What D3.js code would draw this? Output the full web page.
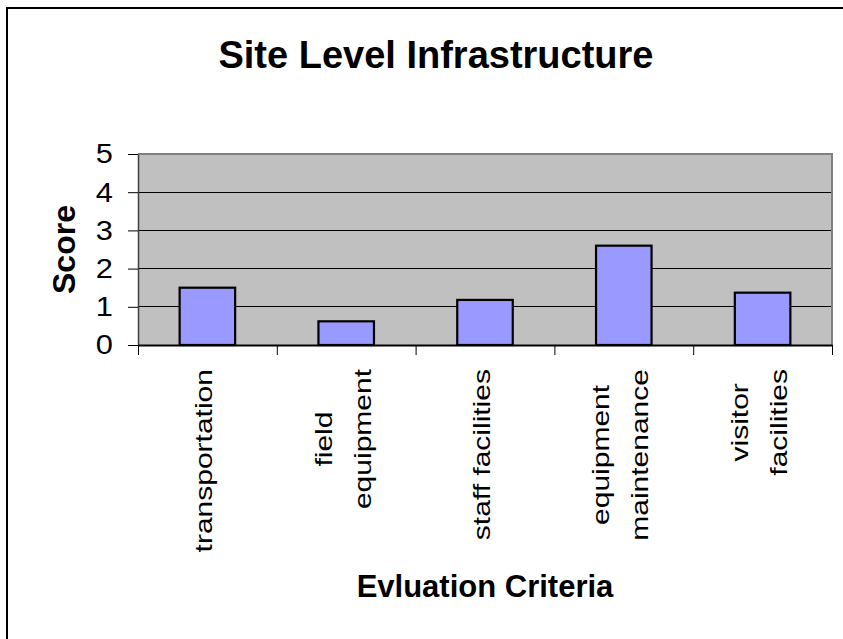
<!DOCTYPE html>
<html><head><meta charset="utf-8">
<script src="https://cdn.jsdelivr.net/npm/d3@7"></script>
<style>body{margin:0;background:#fff}svg{display:block}text{font-family:"Liberation Sans",Arial,Helvetica,sans-serif;fill:#000}</style>
</head><body>
<script>
const categories = ["transportation","field equipment","staff facilities","equipment maintenance","visitor facilities"];
const categoryLines = [["transportation"],["field","equipment"],["staff facilities"],["equipment","maintenance"],["visitor","facilities"]];
const scores = [1.5, 0.62, 1.18, 2.6, 1.37];
const yTicks = [0, 1, 2, 3, 4, 5];
const chartTitle = "Site Level Infrastructure";
const xTitle = "Evluation Criteria";
const yTitle = "Score";

const W = 843, H = 639;
const L = 138, R = 832, T = 154, B = 345;
const svg = d3.select("body").append("svg").attr("width", W).attr("height", H);

// outer frame
svg.append("rect").attr("x", 7).attr("y", 8).attr("width", 900).attr("height", 700)
  .attr("fill", "none").attr("stroke", "#000").attr("stroke-width", 2);

const x = d3.scaleBand().domain(categories).range([L, R]).paddingInner(0.6).paddingOuter(0.3);
const xb = d3.scaleLinear().domain([0, categories.length]).range([L, R]);
const y = d3.scaleLinear().domain([0, 5]).range([B, T]);

// plot background
svg.append("rect").attr("x", L).attr("y", T).attr("width", R - L).attr("height", B - T).attr("fill", "#c0c0c0");

// gridlines
svg.append("g").selectAll("line").data(yTicks.filter(d => d > 0 && d < 5)).join("line")
  .attr("x1", L).attr("x2", R).attr("y1", d => y(d)).attr("y2", d => y(d))
  .attr("stroke", "#000").attr("stroke-width", 1).attr("shape-rendering", "crispEdges");

// plot border (top/right)
svg.append("path").attr("d", `M${L},${T}H${R}V${B}`).attr("fill", "none")
  .attr("stroke", "#808080").attr("stroke-width", 2);

// bars
svg.append("g").selectAll("rect").data(scores).join("rect")
  .attr("x", (d, i) => x(categories[i])).attr("width", x.bandwidth())
  .attr("y", d => y(d)).attr("height", d => y(0) - y(d))
  .attr("fill", "#9999ff").attr("stroke", "#000").attr("stroke-width", 2.2);

// y axis
const yAxis = svg.append("g").attr("transform", `translate(${L},0)`)
  .call(d3.axisLeft(y).tickValues(yTicks).tickFormat(d3.format("d")).tickSize(10).tickSizeOuter(0).tickPadding(15));
yAxis.select(".domain").attr("stroke", "#404040").attr("stroke-width", 1.5);
yAxis.selectAll(".tick line").attr("stroke", "#000");
yAxis.selectAll(".tick text").attr("font-size", 28).attr("font-family", "Liberation Sans, Arial, sans-serif").attr("fill", "#000")
  .attr("x", 0).attr("transform", "translate(-25,0) scale(1.1,1)");

// x axis
const xAxis = svg.append("g").attr("transform", `translate(0,${B})`)
  .call(d3.axisBottom(xb).tickValues(d3.range(categories.length + 1)).tickFormat("").tickSize(10).tickSizeOuter(0));
xAxis.select(".domain").attr("stroke", "#000").attr("stroke-width", 2);
xAxis.selectAll(".tick line").attr("stroke", "#000");

// category labels (rotated)
const fs = 24, stretch = 1.25, lineGap = 39, topY = 369, baseOff = 5;
categories.forEach((c, i) => {
  const lines = categoryLines[i];
  const cx = x(c) + x.bandwidth() / 2;
  const g = svg.append("g");
  const texts = lines.map((ln, j) => {
    const bx = cx + (j - (lines.length - 1) / 2) * lineGap + baseOff;
    return g.append("text").text(ln).attr("font-size", fs).attr("text-anchor", "middle")
      .attr("data-bx", bx);
  });
  const maxW = d3.max(texts, t => t.node().getComputedTextLength()) * stretch;
  const cy = topY + maxW / 2;
  texts.forEach(t => {
    const bx = +t.attr("data-bx");
    t.attr("transform", `translate(${bx},${cy}) rotate(-90) scale(${stretch},1)`);
  });
});

// titles
svg.append("text").attr("x", 436).attr("y", 68).attr("text-anchor", "middle")
  .attr("font-size", 38).attr("font-weight", "bold").text(chartTitle);
svg.append("text").attr("x", (L + R) / 2).attr("y", 597).attr("text-anchor", "middle")
  .attr("font-size", 31).attr("font-weight", "bold").text(xTitle);
svg.append("text").attr("transform", `translate(75,${(T + B) / 2}) rotate(-90)`).attr("text-anchor", "middle")
  .attr("font-size", 32).attr("font-weight", "bold").text(yTitle);
</script>
</body></html>
